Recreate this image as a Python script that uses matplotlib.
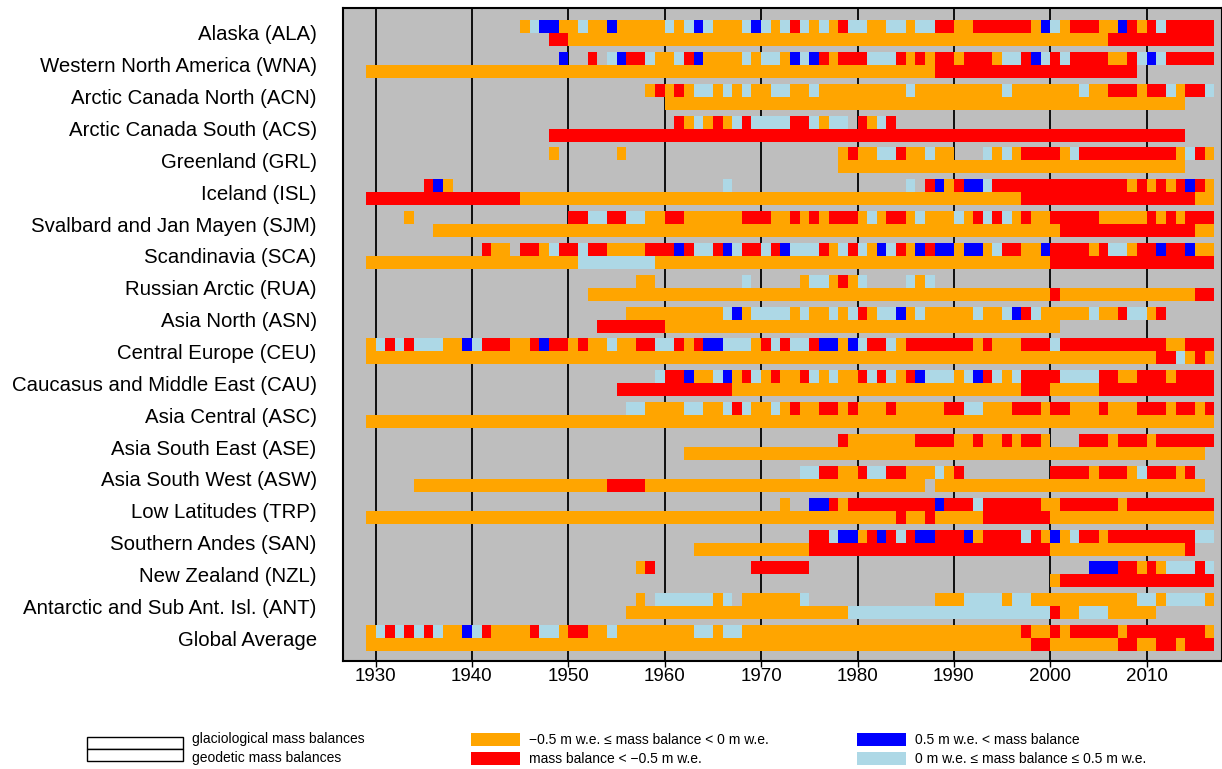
import numpy as np
import matplotlib.pyplot as plt
from matplotlib.patches import Rectangle

plt.rcParams['font.family'] = ['Liberation Sans', 'DejaVu Sans']

# regions, top to bottom
regions = ['Alaska (ALA)', 'Western North America (WNA)', 'Arctic Canada North (ACN)',
           'Arctic Canada South (ACS)', 'Greenland (GRL)', 'Iceland (ISL)',
           'Svalbard and Jan Mayen (SJM)', 'Scandinavia (SCA)', 'Russian Arctic (RUA)',
           'Asia North (ASN)', 'Central Europe (CEU)', 'Caucasus and Middle East (CAU)',
           'Asia Central (ASC)', 'Asia South East (ASE)', 'Asia South West (ASW)',
           'Low Latitudes (TRP)', 'Southern Andes (SAN)', 'New Zealand (NZL)',
           'Antarctic and Sub Ant. Isl. (ANT)', 'Global Average']

# glaciological balances, one letter per year from the start year
# o: -0.5..0, r: < -0.5, l: 0..0.5, b: > 0.5, '.': no data
glac_start = [1945, 1949, 1958, 1961, 1948, 1935, 1933, 1941, 1957, 1956,
              1929, 1959, 1956, 1978, 1974, 1972, 1975, 1957, 1957, 1929]
glac_codes = [
    "olbbo" "oloobooooo" "lolblooolb" "lolrlolorl" "loollollrr" "oorrrrrrob" "lorrroobro" "rlrrrrr",
    "b" "..r.lbrrlo" "olrboooolo" "lloblbrorr" "rlllrororr" "orrrollrbl" "rlrrrroorl" "blrrrrr",
    "or" "orollololo" "ollooloooo" "oooooloooo" "oooooloooo" "oooloorrro" "rrlorrl",
    "rolorolrl" "lllrrloll." "rolr",
    "o." ".....o...." ".........." "........or" "oollrooloo" "...lolorrr" "rolrrrrrrr" "rrrolro",
    "rbo.." ".........." ".........." "......l..." ".........." ".....l.rbo" "rbblrrrrrr" "rrrrrrrror" "ororbro",
    "o......" ".........." "rrllrrlloo" "rroooooorr" "roorororrr" "olorrolooo" "lorlrloroo" "rrrrrooooo" "rororrr",
    "roo.rrolr" "rlrroooorr" "rbrllrblrr" "lrblllrolr" "loblrobrbb" "obbolrroob" "rrrrorllor" "rbrrboo",
    "oo." "........l." "....olloro" "l....lol",
    "oooo" "oooooolbol" "llloloolol" "rollbolooo" "ooloolbrlo" "ooooloorll" "or",
    "o" "lrlrllloob" "lrrroorbrr" "orooloorrl" "lrorbblllo" "rlrllrbbob" "lrrlorrrrr" "rrorooorrr" "lrrrrrrrrr" "rroorrr",
    "l" "rrboolborl" "oroorloloo" "rlrlorblll" "olbrlolrrr" "rllllrroor" "rrorrrr",
    "lloo" "oolloolrlo" "oloroorror" "ooorooooor" "rllooorrro" "rrooorooor" "rrorror",
    "ro" "oooooorrrr" "ooroororro" "...rrrorrr" "orrrrrr",
    "llrroo" "rllrrooolo" "r........." "rrrrorrrol" "rrror",
    "o..bbror" "rrrrrrrrbr" "rrlrrrrrro" "orrrrrrorr" "rrrrrrr",
    "rrlbb" "orbrlrbbrr" "rborrrrlro" "bolrrorrrr" "rrrrrll",
    "or." ".........r" "rrrrr....." ".........." ".........." "....bbbrro" "rolllrl",
    "o.l" "lllllol.oo" "ooool....." "........oo" "ollllolloo" "oooooooool" "lollllo",
    "o" "lrlrlrloob" "lroooorllo" "rroolooooo" "ooollolloo" "oooooooooo" "oooooooooo" "oooooooroo" "rorrrrrorr" "rrrrrro",
]

# geodetic balances: (first year, end year, class)
geod_spans = [
    [(1948, 1950, 'r'), (1950, 2006, 'o'), (2006, 2017, 'r')],
    [(1929, 1988, 'o'), (1988, 2009, 'r')],
    [(1960, 2014, 'o')],
    [(1948, 2014, 'r')],
    [(1978, 2014, 'o')],
    [(1929, 1945, 'r'), (1945, 1997, 'o'), (1997, 2015, 'r'), (2015, 2017, 'o')],
    [(1936, 2001, 'o'), (2001, 2015, 'r'), (2015, 2017, 'o')],
    [(1929, 1951, 'o'), (1951, 1959, 'l'), (1959, 2000, 'o'), (2000, 2017, 'r')],
    [(1952, 2000, 'o'), (2000, 2001, 'r'), (2001, 2015, 'o'), (2015, 2017, 'r')],
    [(1953, 1960, 'r'), (1960, 2001, 'o')],
    [(1929, 2011, 'o'), (2011, 2013, 'r'), (2013, 2014, 'l'), (2014, 2015, 'o'),
     (2015, 2016, 'r'), (2016, 2017, 'o')],
    [(1955, 1967, 'r'), (1967, 1997, 'o'), (1997, 2000, 'r'), (2000, 2005, 'o'), (2005, 2017, 'r')],
    [(1929, 2017, 'o')],
    [(1962, 2016, 'o')],
    [(1934, 1954, 'o'), (1954, 1958, 'r'), (1958, 1987, 'o'), (1988, 2016, 'o')],
    [(1929, 1984, 'o'), (1984, 1985, 'r'), (1985, 1987, 'o'), (1987, 1988, 'r'),
     (1988, 1993, 'o'), (1993, 2000, 'r'), (2000, 2017, 'o')],
    [(1963, 1975, 'o'), (1975, 2000, 'r'), (2000, 2014, 'o'), (2014, 2015, 'r')],
    [(2000, 2001, 'o'), (2001, 2017, 'r')],
    [(1956, 1979, 'o'), (1979, 2000, 'l'), (2000, 2001, 'r'), (2001, 2003, 'o'),
     (2003, 2006, 'l'), (2006, 2011, 'o')],
    [(1929, 1998, 'o'), (1998, 2000, 'r'), (2000, 2007, 'o'), (2007, 2009, 'r'),
     (2009, 2011, 'o'), (2011, 2013, 'r'), (2013, 2014, 'o'), (2014, 2017, 'r')],
]

decades = [1930, 1940, 1950, 1960, 1970, 1980, 1990, 2000, 2010]

colours = {'o': 'orange', 'r': 'red', 'b': 'blue', 'l': 'lightblue'}


def runs(start, codes):
    # merge consecutive years of the same class into (x, width, class)
    out = []
    i = 0
    while i < len(codes):
        j = i
        while j < len(codes) and codes[j] == codes[i]:
            j += 1
        if codes[i] != '.':
            out.append((start + i, j - i, codes[i]))
        i = j
    return out


fig = plt.figure(figsize=(12.22, 7.69), dpi=100)
ax = fig.add_axes([0.2807, 0.1404, 0.7197, 0.8492])
ax.set_facecolor('#bebebe')

n = len(regions)
h = 0.408
for k in range(n):
    yc = n - 1 - k
    for x0, w, c in runs(glac_start[k], glac_codes[k]):
        ax.broken_barh([(x0, w)], (yc, h), facecolors=colours[c], linewidth=0)
    for a, b, c in geod_spans[k]:
        ax.broken_barh([(a, b - a)], (yc - h, h), facecolors=colours[c], linewidth=0)

for d in decades:
    ax.axvline(d, color='black', lw=1.3, zorder=0.5)

ax.set_xlim(1926.63, 2017.86)
ax.set_ylim(-0.72, n - 1 + 0.785)
ax.set_xticks(decades)
ax.set_yticks([n - 1 - k for k in range(n)])
ax.set_yticklabels(regions)
ax.tick_params(axis='y', length=0, pad=19, labelsize=14.7)
ax.tick_params(axis='x', length=4, width=1, pad=1, labelsize=13.5)
for s in ax.spines.values():
    s.set_linewidth(1.5)

# legend below the plot, in pixel positions of the figure
W, H = 1222.0, 769.0


def box(x, y, w, hh, fc, ec='none'):
    fig.add_artist(Rectangle((x / W, 1 - (y + hh) / H), w / W, hh / H,
                             transform=fig.transFigure, facecolor=fc,
                             edgecolor=ec, linewidth=1))


def label(x, y, s):
    fig.text(x / W, 1 - y / H, s, fontsize=10, va='center', ha='left')


box(87, 737, 96, 12, 'white', 'black')
box(87, 749, 96, 12, 'white', 'black')
label(192, 739, 'glaciological mass balances')
label(192, 758, 'geodetic mass balances')

box(471, 733, 49, 13, 'orange')
box(471, 752, 49, 13, 'red')
label(529, 740, '\u22120.5 m w.e. \u2264 mass balance < 0 m w.e.')
label(529, 759, 'mass balance < \u22120.5 m w.e.')

box(857, 733, 49, 13, 'blue')
box(857, 752, 49, 13, 'lightblue')
label(915, 740, '0.5 m w.e. < mass balance')
label(915, 759, '0 m w.e. \u2264 mass balance \u2264 0.5 m w.e.')

fig.savefig('out.png', dpi=100)
